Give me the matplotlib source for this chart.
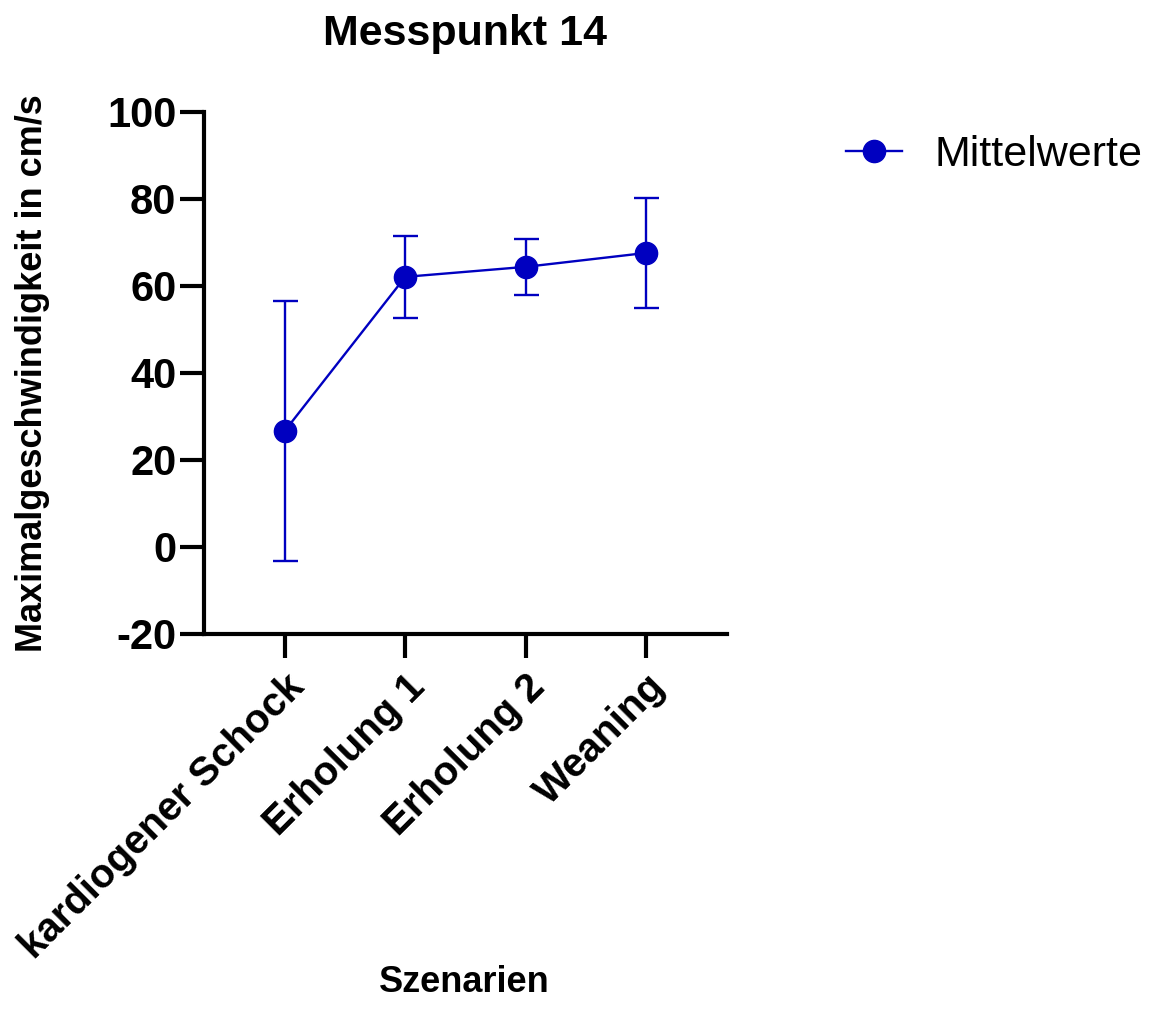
import matplotlib.pyplot as plt
from matplotlib.lines import Line2D
import numpy as np

plt.rcParams['font.family'] = ['Liberation Sans', 'DejaVu Sans']

# Mittelwerte und Standardabweichung je Szenario
szenarien = ['kardiogener Schock', 'Erholung 1', 'Erholung 2', 'Weaning']
mittelwerte = [26.7, 62.1, 64.4, 67.6]
sd = [29.9, 9.5, 6.5, 12.6]
y_ticks = [-20, 0, 20, 40, 60, 80, 100]

blau = '#0000C0'

fig = plt.figure(figsize=(11.53, 10.17), dpi=100)
ax = fig.add_axes([0.177, 0.3766, 0.4535, 0.5133])

x = np.arange(len(szenarien))
ax.errorbar(x, mittelwerte, yerr=sd, color=blau, lw=1.7, marker='o', ms=16,
            capsize=9, capthick=1.7, elinewidth=1.7, zorder=3)

ax.set_xlim(-0.67, 3.67)
ax.set_ylim(-20, 100)
ax.set_yticks(y_ticks)
ax.set_yticklabels([str(v) for v in y_ticks], fontsize=30, fontweight='bold')
ax.set_xticks(x)
ax.set_xticklabels(szenarien, fontsize=29, fontweight='bold', rotation=45,
                   ha='right', va='top', rotation_mode='anchor')

for s in ['top', 'right']:
    ax.spines[s].set_visible(False)
for s in ['left', 'bottom']:
    ax.spines[s].set_linewidth(3)
ax.tick_params(axis='both', width=3, length=17, direction='out', pad=3)
ax.tick_params(axis='x', pad=7)

fig.text(0.403, 0.967, 'Messpunkt 14', ha='center', va='center',
         fontsize=31, fontweight='bold')
fig.text(0.403, 0.017, 'Szenarien', ha='center', va='bottom',
         fontsize=26, fontweight='bold')
fig.text(0.028, 0.633, 'Maximalgeschwindigkeit in cm/s', ha='center', va='center',
         rotation=90, fontsize=26, fontweight='bold')

handle = Line2D([], [], color=blau, lw=1.7, marker='o', ms=16)
fig.legend([handle], ['Mittelwerte'], loc='center left', bbox_to_anchor=(0.7, 0.848),
           frameon=False, fontsize=31, handlelength=1.3, handletextpad=0.75)

fig.savefig('out.png', dpi=100)
